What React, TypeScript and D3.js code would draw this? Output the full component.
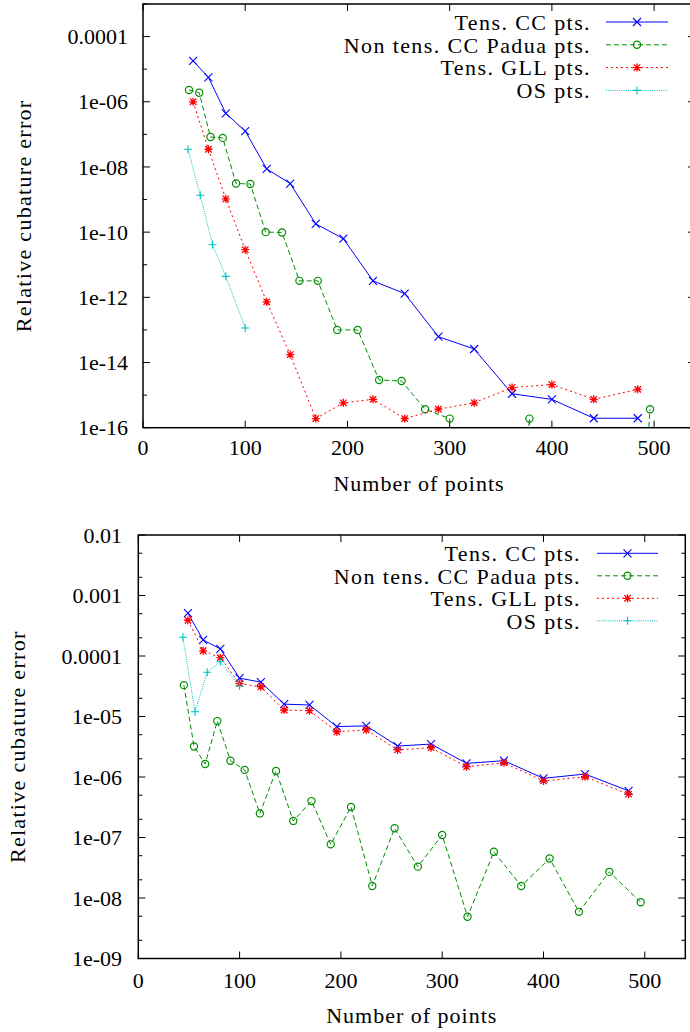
import React from "react";
import * as d3 from "d3";

// ---------- Data ----------
const tensNodes = [49, 64, 81, 100, 121, 144, 169, 196, 225, 256, 289, 324, 361, 400, 441, 484];
const paduaNodes = [45, 55, 66, 78, 91, 105, 120, 136, 153, 171, 190, 210, 231, 253, 276, 300, 325, 351, 378, 406, 435, 465, 496];
const osNodes = [44, 56, 68, 81, 100];

// Top chart (values below 1e-16 are off the chart)
const topCC = [1.8e-5, 5.6e-6, 4.4e-7, 1.26e-7, 8.7e-9, 3.1e-9, 1.8e-10, 6.3e-11, 3.2e-12, 1.3e-12, 6.2e-14, 2.6e-14, 1.1e-15, 7.4e-16, 1.95e-16, 1.95e-16];
const topPadua = [2.3e-6, 1.9e-6, 8.3e-8, 7.8e-8, 3.1e-9, 3.0e-9, 1.0e-10, 9.8e-11, 3.2e-12, 3.2e-12, 1.0e-13, 1.0e-13, 2.9e-15, 2.7e-15, 3.7e-16, 1.9e-16, 1e-30, 1e-30, 1.9e-16, 1e-30, 1e-30, 1e-30, 3.7e-16];
const topGLL = [1.0e-6, 3.5e-8, 1.05e-9, 2.9e-11, 7.3e-13, 1.75e-14, 1.9e-16, 5.8e-16, 7.4e-16, 1.9e-16, 3.7e-16, 5.8e-16, 1.7e-15, 2.1e-15, 7.4e-16, 1.5e-15];
const topOS = [3.5e-8, 1.35e-9, 4.1e-11, 4.4e-12, 1.15e-13];

// Bottom chart
const botCC = [5.1e-4, 1.84e-4, 1.31e-4, 4.3e-5, 3.7e-5, 1.6e-5, 1.55e-5, 6.8e-6, 7.0e-6, 3.25e-6, 3.5e-6, 1.68e-6, 1.86e-6, 9.5e-7, 1.12e-6, 5.9e-7];
const botPadua = [3.3e-5, 3.2e-6, 1.64e-6, 8.4e-6, 1.86e-6, 1.31e-6, 2.5e-7, 1.26e-6, 1.88e-7, 4.0e-7, 7.7e-8, 3.2e-7, 1.58e-8, 1.42e-7, 3.3e-8, 1.1e-7, 4.9e-9, 5.8e-8, 1.58e-8, 4.5e-8, 5.9e-9, 2.7e-8, 8.5e-9];
const botGLL = [3.9e-4, 1.22e-4, 9.4e-5, 3.5e-5, 3.1e-5, 1.28e-5, 1.25e-5, 5.6e-6, 6.0e-6, 2.8e-6, 3.05e-6, 1.48e-6, 1.72e-6, 8.6e-7, 1.01e-6, 5.2e-7];
const botOS = [2.04e-4, 1.2e-5, 5.4e-5, 8.05e-5, 3.2e-5];

const seriesNames = ["Tens. CC pts.", "Non tens. CC Padua pts.", "Tens. GLL pts.", "OS pts."];
const xTicks = [0, 100, 200, 300, 400, 500];
const topYTicks = [1e-16, 1e-14, 1e-12, 1e-10, 1e-8, 1e-6, 1e-4];
const topYTickLabels = ["1e-16", "1e-14", "1e-12", "1e-10", "1e-08", "1e-06", "0.0001"];
const topYMinor = [1e-15, 1e-13, 1e-11, 1e-9, 1e-7, 1e-5, 1e-3];
const botYTicks = [1e-9, 1e-8, 1e-7, 1e-6, 1e-5, 1e-4, 1e-3, 1e-2];
const botYTickLabels = ["1e-09", "1e-08", "1e-07", "1e-06", "1e-05", "0.0001", "0.001", "0.01"];
const xTitle = "Number of points";
const yTitle = "Relative cubature error";

// ---------- Styles ----------
const FONT = "Liberation Serif, DejaVu Serif, Times New Roman, serif";
const styles = [
  { color: "#0000ff", dash: "", marker: "x" },
  { color: "#008c00", dash: "5,3", marker: "o" },
  { color: "#ff0000", dash: "2,3", marker: "*" },
  { color: "#00c0c0", dash: "1,1.2", marker: "+" },
];

function Marker({ kind, x, y, color }: { kind: string; x: number; y: number; color: string }) {
  const s = 4;
  if (kind === "x")
    return (
      <path d={`M${x - s},${y - s}L${x + s},${y + s}M${x - s},${y + s}L${x + s},${y - s}`} stroke={color} strokeWidth={1.1} fill="none" />
    );
  if (kind === "+")
    return <path d={`M${x - s},${y}L${x + s},${y}M${x},${y - s}L${x},${y + s}`} stroke={color} strokeWidth={1.1} fill="none" />;
  if (kind === "o") return <circle cx={x} cy={y} r={3.6} stroke={color} strokeWidth={1.2} fill="none" />;
  const a = s * 0.8;
  return (
    <path
      d={`M${x - s},${y}L${x + s},${y}M${x},${y - s}L${x},${y + s}M${x - a},${y - a}L${x + a},${y + a}M${x - a},${y + a}L${x + a},${y - a}`}
      stroke={color}
      strokeWidth={1.3}
      fill="none"
    />
  );
}

type PanelProps = {
  id: string;
  xRange: [number, number];
  yRange: [number, number];
  yDomain: [number, number];
  series: { xs: number[]; ys: number[] }[];
  yTicks: number[];
  yTickLabels: string[];
  yMinor: number[];
  yLabelX: number;
  xLabelDy: number;
  xTitleY: number;
  yTitleX: number;
  legendTextX: number;
  legendLine: [number, number];
  legendY0: number;
  legendDy: number;
};

const textStyle = { fontFamily: FONT, fontSize: 22 } as React.CSSProperties;

function Panel(p: PanelProps) {
  const x = d3.scaleLinear().domain([0, 540]).range(p.xRange);
  const y = d3.scaleLog().domain(p.yDomain).range(p.yRange);
  const [x0, x1] = p.xRange;
  const [yb, yt] = p.yRange;
  const line = d3
    .line<[number, number]>()
    .x((d) => x(d[0]))
    .y((d) => y(d[1]));
  const major = 7;
  const minor = 4;
  const tickPaths: string[] = [];
  xTicks.forEach((t) => {
    const px = x(t);
    tickPaths.push(`M${px},${yb}V${yb - major}M${px},${yt}V${yt + major}`);
  });
  p.yTicks.forEach((t) => {
    const py = y(t);
    tickPaths.push(`M${x0},${py}H${x0 + major}M${x1},${py}H${x1 - major}`);
  });
  p.yMinor.forEach((t) => {
    const py = y(t);
    if (py < yt - 0.5 || py > yb + 0.5) return;
    tickPaths.push(`M${x0},${py}H${x0 + minor}M${x1},${py}H${x1 - minor}`);
  });
  return (
    <g>
      <defs>
        <clipPath id={p.id}>
          <rect x={x0} y={yt} width={x1 - x0} height={yb - yt} />
        </clipPath>
      </defs>
      <path d={tickPaths.join("")} stroke="#000" strokeWidth={1} fill="none" />
      <rect x={x0} y={yt} width={x1 - x0} height={yb - yt} fill="none" stroke="#000" strokeWidth={1.5} />
      {xTicks.map((t) => (
        <text key={t} x={x(t)} y={yb + p.xLabelDy} textAnchor="middle" dy="0.35em" style={textStyle}>
          {t}
        </text>
      ))}
      {p.yTicks.map((t, i) => (
        <text key={i} x={p.yLabelX} y={y(t)} textAnchor="end" dy="0.35em" style={textStyle}>
          {p.yTickLabels[i]}
        </text>
      ))}
      <text x={(x0 + x1) / 2} y={p.xTitleY} textAnchor="middle" dy="0.35em" style={{ ...textStyle, letterSpacing: 1 }}>
        {xTitle}
      </text>
      <text
        transform={`translate(${p.yTitleX},${(yt + yb) / 2}) rotate(-90)`}
        textAnchor="middle"
        dy="0.35em"
        style={{ ...textStyle, letterSpacing: 1.3 }}
      >
        {yTitle}
      </text>
      <g clipPath={`url(#${p.id})`}>
        {p.series.map((s, si) => {
          const st = styles[si];
          const pts = s.xs.map((xv, i) => [xv, s.ys[i]] as [number, number]);
          return (
            <g key={si}>
              <path d={line(pts) || ""} stroke={st.color} strokeWidth={1} strokeDasharray={st.dash} fill="none" />
              {pts.map((d, i) => (
                <Marker key={i} kind={st.marker} x={x(d[0])} y={y(d[1])} color={st.color} />
              ))}
            </g>
          );
        })}
      </g>
      {seriesNames.map((n, i) => {
        const st = styles[i];
        const ly = p.legendY0 + i * p.legendDy;
        const [lx0, lx1] = p.legendLine;
        return (
          <g key={n}>
            <text x={p.legendTextX} y={ly} textAnchor="end" dy="0.35em" style={{ ...textStyle, letterSpacing: 1.4 }}>
              {n}
            </text>
            <path d={`M${lx0},${ly}H${lx1}`} stroke={st.color} strokeWidth={1} strokeDasharray={st.dash} fill="none" />
            <Marker kind={st.marker} x={(lx0 + lx1) / 2} y={ly} color={st.color} />
          </g>
        );
      })}
    </g>
  );
}

export default function App() {
  const botMinor: number[] = [];
  for (let e = -9; e < -2; e++) {
    botMinor.push(2 * Math.pow(10, e), 5 * Math.pow(10, e));
  }
  return (
    <svg width={690} height={1032} style={{ position: "absolute", left: 0, top: 0, background: "#fff" }}>
      <Panel
        id="clipTop"
        xRange={[143, 695]}
        yRange={[427.7, 4]}
        yDomain={[1e-16, 1e-3]}
        series={[
          { xs: tensNodes, ys: topCC },
          { xs: paduaNodes, ys: topPadua },
          { xs: tensNodes, ys: topGLL },
          { xs: osNodes, ys: topOS },
        ]}
        yTicks={topYTicks}
        yTickLabels={topYTickLabels}
        yMinor={topYMinor}
        yLabelX={128}
        xLabelDy={20}
        xTitleY={483}
        yTitleX={23}
        legendTextX={591}
        legendLine={[606, 668]}
        legendY0={22}
        legendDy={22.8}
      />
      <Panel
        id="clipBot"
        xRange={[138.3, 685.3]}
        yRange={[958.5, 535]}
        yDomain={[1e-9, 1e-2]}
        series={[
          { xs: tensNodes, ys: botCC },
          { xs: paduaNodes, ys: botPadua },
          { xs: tensNodes, ys: botGLL },
          { xs: osNodes, ys: botOS },
        ]}
        yTicks={botYTicks}
        yTickLabels={botYTickLabels}
        yMinor={botMinor}
        yLabelX={122}
        xLabelDy={21.5}
        xTitleY={1015}
        yTitleX={17}
        legendTextX={581}
        legendLine={[597, 658]}
        legendY0={553.3}
        legendDy={22.5}
      />
    </svg>
  );
}
